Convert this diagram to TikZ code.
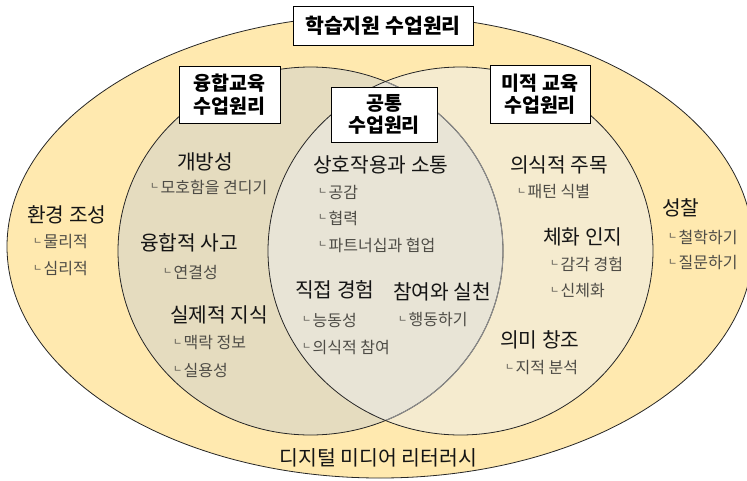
\documentclass[tikz,border=0pt]{standalone}
\usepackage{fontspec}
\setmainfont{Noto Sans CJK KR}
\definecolor{outerc}{RGB}{255,233,175}
\definecolor{leftc}{RGB}{229,220,191}
\definecolor{rightc}{RGB}{245,235,207}
\definecolor{midc}{RGB}{232,228,214}
\definecolor{headc}{RGB}{20,20,20}
\definecolor{subc}{RGB}{78,76,70}
\newcommand{\nn}{\makebox[10.5pt][l]{\fontsize{10}{10}\selectfont\raisebox{3.5pt}{ㄴ}}}
\tikzset{
  head/.style={font=\fontsize{20.3}{22}\selectfont, text=headc, anchor=west, inner sep=0pt},
  sub/.style={font=\fontsize{16}{18}\selectfont, text=subc, anchor=west, inner sep=0pt},
  boxn/.style={draw=black, fill=white, line width=0.9pt, font=\bfseries\fontsize{19.5}{22.5}\selectfont, align=center, inner sep=0pt, text=black},
  edge/.style={draw=black!85, line width=0.8pt}
}
\begin{document}
\begin{tikzpicture}[x=1pt,y=-1pt]
\useasboundingbox (0,0) rectangle (747,480);
\begin{scope}
\clip (0,0) rectangle (747,480);
\fill[outerc] (380,246.5) ellipse [x radius=373pt, y radius=231.5pt];
\draw[edge] (380,246.5) ellipse [x radius=373pt, y radius=231.5pt];
\fill[leftc] (310.5,251) ellipse [x radius=192.5pt, y radius=184pt];
\fill[rightc] (460.5,251) ellipse [x radius=192.5pt, y radius=184pt];
\begin{scope}
\clip (310.5,251) ellipse [x radius=192.5pt, y radius=184pt];
\fill[midc] (460.5,251) ellipse [x radius=192.5pt, y radius=184pt];
\end{scope}
\draw[edge] (310.5,251) ellipse [x radius=192.5pt, y radius=184pt];
\begin{scope}
\clip (460.5,251) ellipse [x radius=192.5pt, y radius=184pt];
\draw[draw=black!45, line width=1pt] (310.5,251) ellipse [x radius=192.5pt, y radius=184pt];
\end{scope}
\draw[edge] (460.5,251) ellipse [x radius=192.5pt, y radius=184pt];
\end{scope}

% boxes
\node[boxn, minimum width=180pt, minimum height=39pt, font=\bfseries\fontsize{20.5}{22}\selectfont] (title) at (383,25.5) {학습지원 수업원리};
\node[boxn, minimum width=101pt, minimum height=57pt] (lbox) at (229.5,94.5) {융합교육\\수업원리};
\node[boxn, minimum width=106pt, minimum height=55pt] (mbox) at (384,114.5) {공통\\수업원리};
\node[boxn, minimum width=100pt, minimum height=58pt] (rbox) at (540,94) {미적 교육\\수업원리};

% outer left
\node[head] (env) at (27,215) {환경 조성};
\node[sub] (env1) at (33,242) {\nn 물리적};
\node[sub] (env2) at (33,269) {\nn 심리적};

% left circle
\node[head] (open) at (177,162) {개방성};
\node[sub] (open1) at (150,187) {\nn 모호함을 견디기};
\node[head] (conv) at (140,243) {융합적 사고};
\node[sub] (conv1) at (163,272) {\nn 연결성};
\node[head] (real) at (170,315) {실제적 지식};
\node[sub] (real1) at (173,343) {\nn 맥락 정보};
\node[sub] (real2) at (173,370) {\nn 실용성};

% middle
\node[head] (inter) at (313,165) {상호작용과 소통};
\node[sub] (inter1) at (318,192) {\nn 공감};
\node[sub] (inter2) at (318,218) {\nn 협력};
\node[sub] (inter3) at (318,245) {\nn 파트너십과 협업};
\node[head] (direct) at (295,290) {직접 경험};
\node[head] (part) at (393,292) {참여와 실천};
\node[sub] (direct1) at (302,320) {\nn 능동성};
\node[sub] (part1) at (398,320) {\nn 행동하기};
\node[sub] (direct2) at (302,347) {\nn 의식적 참여};

% right circle
\node[head] (att) at (510,165) {의식적 주목};
\node[sub] (att1) at (517,192) {\nn 패턴 식별};
\node[head] (emb) at (543,237) {체화 인지};
\node[sub] (emb1) at (550,264) {\nn 감각 경험};
\node[sub] (emb2) at (550,291) {\nn 신체화};
\node[head] (mean) at (500,340) {의미 창조};
\node[sub] (mean1) at (505,368) {\nn 지적 분석};

% outer right
\node[head] (refl) at (662,208) {성찰};
\node[sub] (refl1) at (668,237) {\nn 철학하기};
\node[sub] (refl2) at (668,263) {\nn 질문하기};

% bottom
\node[font=\fontsize{20.5}{22}\selectfont, text=headc, inner sep=0pt] (dml) at (378.5,458) {디지털 미디어 리터러시};
\end{tikzpicture}
\end{document}
